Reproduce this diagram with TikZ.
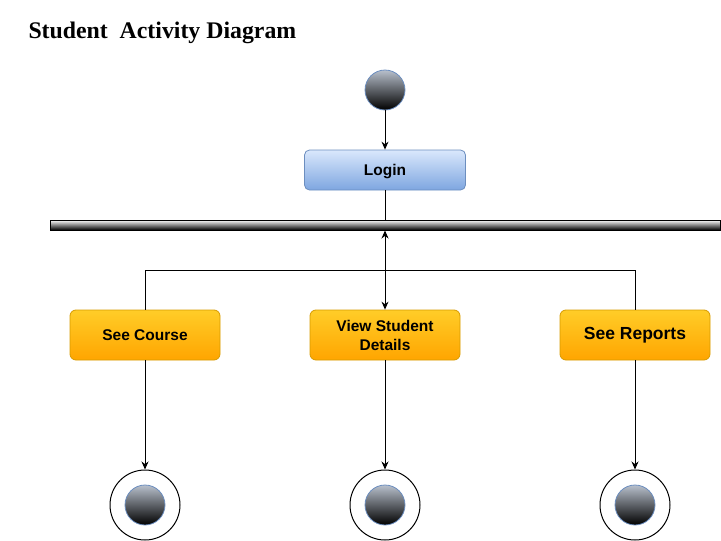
\documentclass[tikz,border=0pt]{standalone}
\usepackage{fontspec}
\setmainfont{Liberation Serif}
\setsansfont{Liberation Sans}
\usetikzlibrary{arrows.meta}

\definecolor{loginTop}{HTML}{DAE8FC}
\definecolor{loginBot}{HTML}{7EA6E0}
\definecolor{loginLine}{HTML}{6C8EBF}
\definecolor{actTop}{HTML}{FFCD28}
\definecolor{actBot}{HTML}{FFA500}
\definecolor{actLine}{HTML}{D79B00}
\definecolor{dotTop}{HTML}{B8C0CC}

\begin{document}
\begin{tikzpicture}[x=1pt,y=-1pt,line width=1pt,
    font=\sffamily\bfseries\fontsize{15.5}{19}\selectfont,
    flow/.style={-{Stealth[length=8pt,width=7pt]}},
    act/.style={draw=actLine,line width=0.8pt,top color=actTop,bottom color=actBot,
      rounded corners=6pt,minimum width=150pt,minimum height=50pt,
      align=center,inner sep=0pt},
    dot/.style={circle,draw=loginLine,line width=0.8pt,top color=dotTop,
      bottom color=black,minimum size=40pt,inner sep=0pt},
    ring/.style={circle,draw,line width=1pt,minimum size=70pt,inner sep=0pt}]
  \useasboundingbox (0,0) rectangle (721,541);

  % the title
  \node [anchor=base west,inner sep=0pt,
    font=\rmfamily\bfseries\fontsize{23.8}{28}\selectfont]
    (title) at (28,38) {Student\ \ Activity Diagram};

  % start and login
  \node [dot] (start) at (385,90) {};
  \node [draw=loginLine,line width=0.8pt,top color=loginTop,bottom color=loginBot,
    rounded corners=5pt,minimum width=161pt,minimum height=40pt,inner sep=0pt,
    text depth=0pt] (login) at (385,170) {Login};

  % the fork bar
  \node [draw,line width=1pt,top color=white,bottom color=black,
    minimum width=670pt,minimum height=10pt,inner sep=0pt] (bar) at (385,225) {};

  % the three activities
  \node [act] (course) at (145,335) {See Course};
  \node [act] (view) at (385,335) {View Student\\Details};
  \node [act,font=\sffamily\bfseries\fontsize{17.5}{21}\selectfont]
    (reports) at (635,335) {See Reports};

  % the final states
  \foreach \nm/\xx in {endA/145,endB/385,endC/635} {
    \node [ring] (\nm) at (\xx,505) {};
    \node [dot] (\nm dot) at (\nm) {};
  }

  % connectors
  \draw [flow] (start) -- (login);
  \draw (login) -- (bar);
  \draw [{Stealth[length=8pt,width=7pt]}-{Stealth[length=8pt,width=7pt]}]
    (bar) -- (view);
  \coordinate (forkL) at (145,270);
  \coordinate (forkR) at (635,270);
  \draw (course) -- (forkL) -- (forkR) -- (reports);
  \draw [flow] (course) -- (endA);
  \draw [flow] (view) -- (endB);
  \draw [flow] (reports) -- (endC);
\end{tikzpicture}
\end{document}
